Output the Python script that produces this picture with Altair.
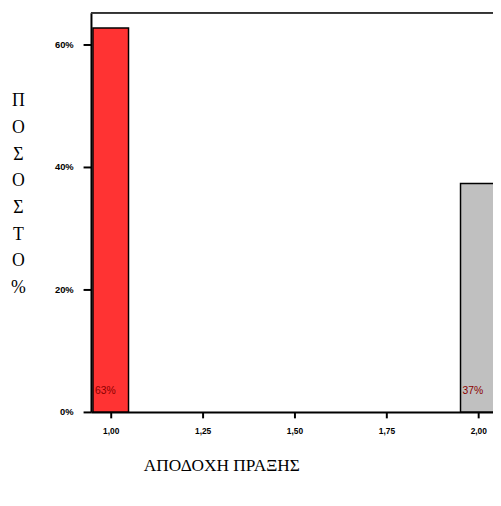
import altair as alt
import pandas as pd

# data
categories = [1.0, 2.0]
percents = [62.7, 37.3]
bar_labels = ["63%", "37%"]
bar_colors = ["#ff3333", "#c0c0c0"]
y_ticks = [0, 20, 40, 60]
x_ticks = [1.0, 1.25, 1.5, 1.75, 2.0]
y_title = ["Π", "Ο", "Σ", "Ο", "Σ", "Τ", "Ο", "%"]
x_title = "ΑΠΟΔΟΧΗ ΠΡΑΞΗΣ"

df = pd.DataFrame({"cat": categories, "pct": percents, "lab": bar_labels, "col": bar_colors})

W, H = 407, 404

xscale = alt.Scale(domain=[0.9462, 2.04], nice=False, zero=False, padding=0)
yscale = alt.Scale(domain=[0, 65.16], nice=False, zero=True, padding=0)

x_axis = alt.Axis(
    values=x_ticks,
    labelExpr="replace(format(datum.value, '.2f'), '.', ',')",
    title=x_title,
    titleFont="Liberation Serif", titleFontSize=17.5, titleFontWeight="normal",
    titleColor="black", titleX=132, titleY=54, titleAlign="center",
    titleBaseline="middle", titleAnchor="start",
    labelFont="Liberation Sans", labelFontSize=8.5, labelFontWeight="bold",
    labelColor="black", labelPadding=9,
    tickSize=6, tickColor="black", tickWidth=2,
    domainColor="black", domainWidth=2, grid=False,
)
y_axis = alt.Axis(
    values=y_ticks,
    labelExpr="datum.value + '%'",
    title=y_title,
    titleAngle=0, titleFont="Liberation Serif", titleFontSize=18,
    titleFontWeight="normal", titleColor="black", titleLineHeight=27,
    titleX=-74, titleY=80, titleAlign="center", titleBaseline="top", titleAnchor="start",
    labelFont="Liberation Sans", labelFontSize=9.5, labelFontWeight="bold",
    labelColor="black", labelPadding=10,
    tickSize=8, tickColor="black", tickWidth=2,
    domainColor="black", domainWidth=2, grid=False,
)

bars = alt.Chart(df).mark_bar(size=36, stroke="black", strokeWidth=1.5, clip=True).encode(
    x=alt.X("cat:Q", scale=xscale, axis=x_axis),
    y=alt.Y("pct:Q", scale=yscale, axis=y_axis),
    fill=alt.Fill("col:N", scale=None, legend=None),
)

texts = alt.Chart(df).mark_text(
    align="left", baseline="middle", dx=-16, dy=-21,
    font="Liberation Sans", fontSize=10.5, color="#8b0000", clip=True,
).encode(
    x=alt.X("cat:Q", scale=xscale),
    y=alt.datum(0),
    text="lab:N",
)

frame = alt.Chart(df).mark_rule(color="#333333", strokeWidth=2).encode(
    x=alt.value(0), x2=alt.value(W), y=alt.value(0)
)

chart = alt.layer(bars, texts, frame).properties(
    width=W, height=H, autosize="none",
    padding={"left": 84, "top": 2, "right": 0, "bottom": 68},
).configure_view(stroke=None).configure(background="white")

chart.save("out.html", embed_options={"renderer": "svg", "actions": False})
